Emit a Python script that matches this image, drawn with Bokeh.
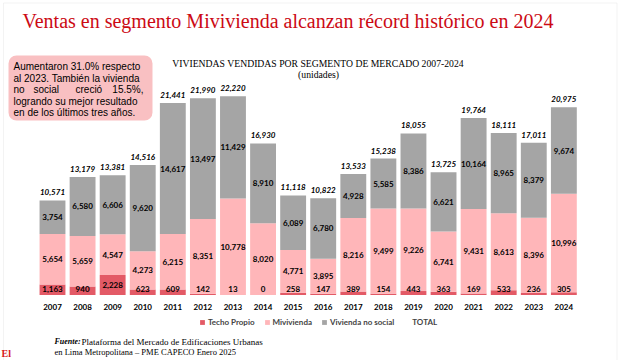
from bokeh.plotting import figure
from bokeh.models import ColumnDataSource, Range1d, FixedTicker, Label, Legend, LegendItem, BoxAnnotation
from bokeh.core.properties import value
from bokeh.embed import file_html
from bokeh.resources import INLINE

# ---------------- data ----------------
years = [2007, 2008, 2009, 2010, 2011, 2012, 2013, 2014, 2015,
         2016, 2017, 2018, 2019, 2020, 2021, 2022, 2023, 2024]
techo_propio = [1163, 940, 2228, 623, 609, 142, 13, 0, 258,
                147, 389, 154, 443, 363, 169, 533, 236, 305]
mivivienda = [5654, 5659, 4547, 4273, 6215, 8351, 10778, 8020, 4771,
              3895, 8216, 9499, 9226, 6741, 9431, 8613, 8396, 10996]
no_social = [3754, 6580, 6606, 9620, 14617, 13497, 11429, 8910, 6089,
             6780, 4928, 5585, 8386, 6621, 10164, 8965, 8379, 9674]
totals = [10571, 13179, 13381, 14516, 21441, 21990, 22220, 16930, 11118,
          10822, 13533, 15238, 18055, 13725, 19764, 18111, 17011, 20975]
series_names = ["Techo Propio", "Mivivienda", "Vivienda no social"]

# ---------------- layout helpers (reference pixels -> data) ----------------
W, H = 620, 360
S = 30.08             # px per year
X0 = 2007 - 52 / S
PX_PER_UNIT = 0.00895
BASE_REF = 294.5


def xd(px):
    return X0 + px / S


def yd(py):
    return (BASE_REF - py) / PX_PER_UNIT


C_TP = "#E35A66"
C_MV = "#FFB6B9"
C_NS = "#A5A5A5"

p = figure(width=W, height=H, x_range=Range1d(xd(0), xd(W)),
           y_range=Range1d(yd(H), yd(0)), output_backend="svg",
           toolbar_location=None, min_border=0)
p.outline_line_color = None
p.grid.visible = False
p.yaxis.visible = False
p.background_fill_color = "white"
p.border_fill_color = "white"

xa = p.xaxis[0]
xa.fixed_location = 0
xa.ticker = FixedTicker(ticks=years)
xa.axis_line_color = None
xa.major_tick_line_color = None
xa.minor_tick_line_color = None
xa.major_label_standoff = 3
xa.major_label_text_font = "Lato"
xa.major_label_text_font_size = "8px"
xa.major_label_text_font_style = "bold"
xa.major_label_text_color = "black"

# slide frame
p.add_layout(BoxAnnotation(left=xd(3), right=xd(616.5), top=yd(2.5), bottom=yd(370),
                           fill_alpha=0, line_color="#D6D6D6", line_width=1))

# pink comment box
p.add_layout(BoxAnnotation(left=xd(8), right=xd(152), top=yd(55), bottom=yd(120),
                           fill_color="#F9C0C2", fill_alpha=1.0, line_color=None,
                           border_radius=8))

src = ColumnDataSource(dict(year=years, tp=techo_propio, mv=mivivienda, ns=no_social))
rs = p.vbar_stack(["tp", "mv", "ns"], x="year", width=0.86,
                  fill_color=[C_TP, C_MV, C_NS], line_color=None, source=src)

fmt = lambda v: f"{v:,}"
lab_tp = ColumnDataSource(dict(x=years, y=[max(t / 2, 700) for t in techo_propio],
                               t=[fmt(v) for v in techo_propio]))
lab_mv = ColumnDataSource(dict(x=years, y=[t + m / 2 for t, m in zip(techo_propio, mivivienda)],
                               t=[fmt(v) for v in mivivienda]))
lab_ns = ColumnDataSource(dict(x=years, y=[t + m + n / 2 for t, m, n in zip(techo_propio, mivivienda, no_social)],
                               t=[fmt(v) for v in no_social]))
lab_tot = ColumnDataSource(dict(x=years, y=totals, t=[fmt(v) for v in totals]))

for s in (lab_tp, lab_mv, lab_ns):
    p.text(x="x", y="y", text="t", source=s, text_font=value("Lato"),
           text_font_size="8px", text_font_style="bold", text_color="black",
           text_align="center", text_baseline="middle")
tot_r = p.text(x="x", y="y", text="t", source=lab_tot, text_font=value("Lato"),
               text_font_size="8px", text_font_style="bold italic", text_color="black",
               text_align="center", text_baseline="middle", y_offset=-8)

legend = Legend(items=[LegendItem(label=series_names[0], renderers=[rs[0]]),
                       LegendItem(label=series_names[1], renderers=[rs[1]]),
                       LegendItem(label=series_names[2], renderers=[rs[2]]),
                       LegendItem(label="TOTAL", renderers=[tot_r])],
                orientation="horizontal", location=(199, H - 322 - 5),
                glyph_width=6, glyph_height=6, label_standoff=3, spacing=9,
                padding=0, margin=0, border_line_color=None, background_fill_alpha=0,
                label_text_font="Lato", label_text_font_size="8px",
                label_text_font_style="bold", label_height=10, label_width=10)
p.add_layout(legend)

# titles
p.add_layout(Label(x=xd(22), y=yd(20), text="Ventas en segmento Mivivienda alcanzan récord histórico en 2024",
                   text_font="Liberation Serif", text_font_size="20px", text_color="#CC0A14",
                   text_align="left", text_baseline="middle"))
p.add_layout(Label(x=xd(317.5), y=yd(63), text="VIVIENDAS VENDIDAS POR SEGMENTO DE MERCADO 2007-2024",
                   text_font="Liberation Serif", text_font_size="9.7px", text_color="black",
                   text_align="center", text_baseline="middle"))
p.add_layout(Label(x=xd(318), y=yd(74), text="(unidades)",
                   text_font="Liberation Serif", text_font_size="9.7px", text_color="black",
                   text_align="center", text_baseline="middle"))

# box text (line 3 spread to imitate justification)
box_font = dict(text_font="Liberation Sans", text_font_size="10px",
                text_color="black", text_baseline="middle")
p.add_layout(Label(x=xd(13), y=yd(66), text="Aumentaron 31.0% respecto", text_align="left", **box_font))
p.add_layout(Label(x=xd(13), y=yd(77.5), text="al 2023. También la vivienda", text_align="left", **box_font))
for word, wx, al in (("no", 13, "left"), ("social", 33, "left"), ("creció", 75, "left"), ("15.5%,", 143, "right")):
    p.add_layout(Label(x=xd(wx), y=yd(89), text=word, text_align=al, **box_font))
p.add_layout(Label(x=xd(13), y=yd(100.5), text="logrando su mejor resultado", text_align="left", **box_font))
p.add_layout(Label(x=xd(13), y=yd(112), text="en de los últimos tres años.", text_align="left", **box_font))

# source
src_font = dict(text_font="Liberation Serif", text_color="black",
                text_align="left", text_baseline="middle")
p.add_layout(Label(x=xd(54), y=yd(341), text="Fuente:", text_font_size="8px",
                   text_font_style="bold italic", **src_font))
p.add_layout(Label(x=xd(81), y=yd(341), text="Plataforma del Mercado de Edificaciones Urbanas",
                   text_font_size="9px", **src_font))
p.add_layout(Label(x=xd(54), y=yd(351.5), text="en Lima Metropolitana – PME CAPECO Enero 2025",
                   text_font_size="8.5px", **src_font))

# logo fragment at bottom-left
p.add_layout(Label(x=xd(1), y=yd(358), text="El", text_font="Liberation Serif", text_font_size="10px",
                   text_font_style="bold", text_color="#D71920", text_align="left", text_baseline="bottom"))

open("out.html", "w").write(file_html(p, INLINE))
